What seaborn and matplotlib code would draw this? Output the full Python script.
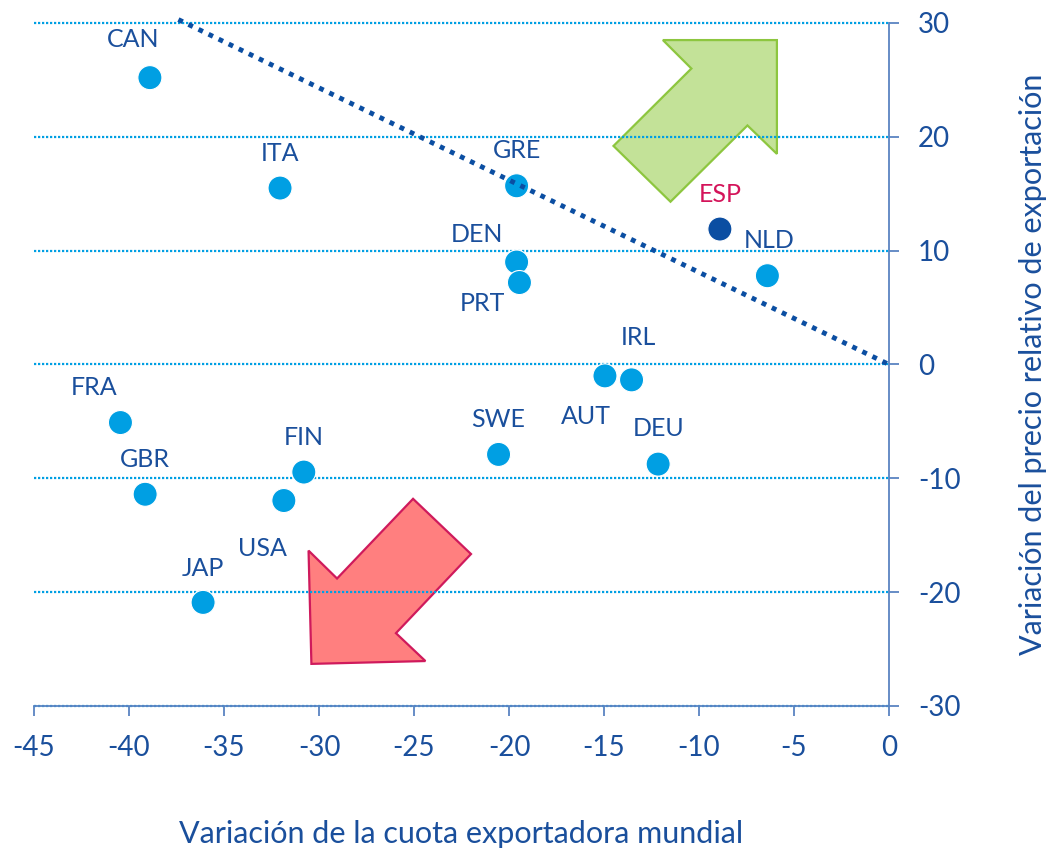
import numpy as np
import pandas as pd
import matplotlib
matplotlib.use("Agg")
import matplotlib.pyplot as plt
import seaborn as sns
from matplotlib.patches import Polygon


sns.set_theme(style="white")
plt.rcParams["font.family"] = ["Lato", "DejaVu Sans"]

# data
COUNTRIES = ["CAN", "ITA", "GRE", "ESP", "NLD", "DEN", "PRT", "IRL",
             "AUT", "DEU", "SWE", "FRA", "GBR", "FIN", "USA", "JAP"]
CUOTA = [-38.9, -32.05, -19.6, -8.9, -6.4, -19.6, -19.45, -13.55,
         -14.95, -12.15, -20.55, -40.45, -39.15, -30.8, -31.85, -36.1]
PRECIO = [25.2, 15.5, 15.7, 11.9, 7.8, 9.0, 7.2, -1.35,
          -1.0, -8.75, -7.9, -5.1, -11.4, -9.45, -11.95, -20.9]
X_TICKS = [-45, -40, -35, -30, -25, -20, -15, -10, -5, 0]
Y_TICKS = [-30, -20, -10, 0, 10, 20, 30]
TREND_X = [-37.4, 0.0]
TREND_Y = [30.3, 0.0]

# label offsets (pixels, right / up) relative to each point
LABEL_OFFSETS = {
    "CAN": (-17, 38), "ITA": (0, 35), "GRE": (0, 35), "ESP": (0, 35),
    "NLD": (2, 35), "DEN": (-40, 28), "PRT": (-37, -21), "IRL": (7, 42),
    "AUT": (-19, -41), "DEU": (0, 36), "SWE": (0, 35), "FRA": (-26, 35),
    "GBR": (0, 35), "FIN": (0, 35), "USA": (-21, -48), "JAP": (0, 34),
}

# decorative arrows (data coords)
UP_ARROW = [(-11.9, 28.5), (-10.4, 26.0), (-14.5, 19.2), (-11.5, 14.3),
            (-7.45, 21.0), (-5.9, 18.5), (-5.9, 28.5)]
DOWN_ARROW = [(-25.05, -11.8), (-22.0, -16.65), (-25.95, -23.6), (-24.4, -26.05),
              (-30.4, -26.3), (-30.55, -16.35), (-29.05, -18.8)]

AXIS_BLUE = "#5A84C2"
TEXT_BLUE = "#1A4F9C"
DOT_BLUE = "#009FE3"
ESP_BLUE = "#0B4EA2"
ESP_RED = "#D4145A"

df = pd.DataFrame({"pais": COUNTRIES, "cuota": CUOTA, "precio": PRECIO})
df["grupo"] = np.where(df["pais"] == "ESP", "ESP", "resto")

fig = plt.figure(figsize=(10.48, 8.55), dpi=100)
ax = fig.add_axes([34 / 1048, 1 - 706 / 855, (889 - 34) / 1048, (706 - 23) / 855])

ax.add_patch(Polygon(UP_ARROW, closed=True, facecolor="#C3E298",
                     edgecolor="#8DC63F", linewidth=1.6, zorder=0.3))
ax.add_patch(Polygon(DOWN_ARROW, closed=True, facecolor="#FF7F7F",
                     edgecolor="#CF1A5C", linewidth=1.6, zorder=0.3))

sns.scatterplot(data=df, x="cuota", y="precio", hue="grupo",
                palette={"resto": DOT_BLUE, "ESP": ESP_BLUE},
                s=300, linewidth=0.8, edgecolor="white", legend=False,
                ax=ax, zorder=3)

ax.plot(TREND_X, TREND_Y, color=ESP_BLUE, linewidth=3.5,
        linestyle=(0, (1.0, 1.3)), dash_capstyle="butt", clip_on=False, zorder=4)

for name, x, y in zip(COUNTRIES, CUOTA, PRECIO):
    dx, dy = LABEL_OFFSETS[name]
    ax.annotate(name, (x, y), xytext=(dx * 0.72, dy * 0.72), textcoords="offset points",
                ha="center", va="center", fontsize=18,
                color=ESP_RED if name == "ESP" else TEXT_BLUE, zorder=5)

ax.set_xlim(-45, 0)
ax.set_ylim(-30, 30)
ax.set_xticks(X_TICKS)
ax.set_yticks(Y_TICKS)
ax.set_xticklabels([str(v) for v in X_TICKS])
ax.set_yticklabels([str(v) for v in Y_TICKS])

ax.set_axisbelow(True)
ax.grid(axis="y", color=DOT_BLUE, linewidth=1.6, linestyle=(0, (1.0, 0.8)))
ax.grid(axis="x", visible=False)
for line in ax.get_ygridlines():
    line.set_clip_on(False)

for side in ["left", "top"]:
    ax.spines[side].set_visible(False)
for side in ["right", "bottom"]:
    ax.spines[side].set_color(AXIS_BLUE)
    ax.spines[side].set_linewidth(1.3)

ax.yaxis.tick_right()
ax.yaxis.set_label_position("right")
ax.tick_params(axis="both", direction="out", length=7, width=1.3,
               color=AXIS_BLUE, labelcolor=TEXT_BLUE, labelsize=20, pad=14)
ax.tick_params(axis="y", left=False, right=True)
ax.tick_params(axis="x", bottom=True)

ax.set_xlabel("Variación de la cuota exportadora mundial", fontsize=22,
              color=TEXT_BLUE, labelpad=42)
ax.set_ylabel("Variación del precio relativo de exportación", fontsize=22,
              color=TEXT_BLUE, labelpad=42)

fig.savefig("out.png", dpi=100)
